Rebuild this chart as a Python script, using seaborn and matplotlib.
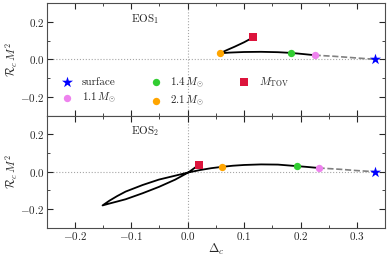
import numpy as np
import matplotlib
matplotlib.use("Agg")
import matplotlib.pyplot as plt
import seaborn as sns

# -----------------------------
# data
# -----------------------------
# EOS 1
eos1_solid_x = [0.225, 0.205, 0.184, 0.160, 0.130, 0.100, 0.075, 0.057, 0.070, 0.083, 0.100, 0.116]
eos1_solid_y = [0.022, 0.028, 0.034, 0.038, 0.040, 0.039, 0.036, 0.032, 0.050, 0.067, 0.091, 0.117]
eos1_dash_x = [0.225, 0.260, 0.300, 0.332]
eos1_dash_y = [0.022, 0.016, 0.007, 0.000]

# EOS 2 (main branch, loop, then up to M_TOV)
eos2_solid_x = [0.232, 0.210, 0.193, 0.160, 0.130, 0.100, 0.080, 0.061, 0.042, 0.022, 0.001,
                -0.022, -0.051, -0.080, -0.110, -0.125, -0.139, -0.151,
                -0.139, -0.125, -0.110, -0.080, -0.051, -0.022, 0.001, 0.020]
eos2_solid_y = [0.020, 0.026, 0.030, 0.038, 0.039, 0.036, 0.032, 0.026, 0.019, 0.009, -0.004,
                -0.021, -0.042, -0.071, -0.106, -0.130, -0.155, -0.180,
                -0.170, -0.159, -0.147, -0.115, -0.081, -0.042, -0.004, 0.037]
eos2_dash_x = [0.232, 0.270, 0.300, 0.332]
eos2_dash_y = [0.020, 0.013, 0.006, 0.000]

# special points: surface, 1.1, 1.4, 2.1 Msun, M_TOV
labels = ["surface", r"$1.1\,M_{\odot}$", r"$1.4\,M_{\odot}$", r"$2.1\,M_{\odot}$", r"$M_{\rm TOV}$"]
colors = ["blue", "violet", "limegreen", "orange", "crimson"]
markers = ["*", "o", "o", "o", "s"]
sizes = [70, 28, 28, 28, 28]
eos1_pts_x = [0.332, 0.225, 0.184, 0.057, 0.116]
eos1_pts_y = [0.000, 0.022, 0.034, 0.032, 0.117]
eos2_pts_x = [0.332, 0.232, 0.193, 0.061, 0.020]
eos2_pts_y = [0.000, 0.020, 0.030, 0.026, 0.037]

# -----------------------------
# style
# -----------------------------
sns.set_style("ticks")
plt.rcParams["font.family"] = "serif"
plt.rcParams["font.serif"] = ["cmr10", "DejaVu Serif"]
plt.rcParams["mathtext.fontset"] = "cm"
plt.rcParams["axes.formatter.use_mathtext"] = True
plt.rcParams["font.size"] = 8
plt.rcParams["axes.edgecolor"] = "0.3"

fig, axes = plt.subplots(2, 1, sharex=True, figsize=(3.89, 2.59), dpi=100)
fig.subplots_adjust(left=0.12, right=0.99, top=0.988, bottom=0.12, hspace=0)

panels = [
    (eos1_solid_x, eos1_solid_y, eos1_dash_x, eos1_dash_y, eos1_pts_x, eos1_pts_y, r"EOS$_1$"),
    (eos2_solid_x, eos2_solid_y, eos2_dash_x, eos2_dash_y, eos2_pts_x, eos2_pts_y, r"EOS$_2$"),
]

for ax, (sx, sy, dx, dy, px, py, name) in zip(axes, panels):
    ax.axhline(0, color="0.65", ls=":", lw=0.8, zorder=0)
    ax.axvline(0, color="0.65", ls=":", lw=0.8, zorder=0)
    sns.lineplot(x=dx, y=dy, sort=False, estimator=None, color="0.5",
                 linestyle="--", lw=1.2, ax=ax)
    sns.lineplot(x=sx, y=sy, sort=False, estimator=None, color="black", lw=1.3, ax=ax)
    for i in range(len(labels)):
        sns.scatterplot(x=[px[i]], y=[py[i]], color=colors[i], marker=markers[i],
                        s=sizes[i], linewidth=0, label=labels[i], zorder=5, ax=ax)
    ax.text(-0.075, 0.215, name, ha="center", va="center", fontsize=8)
    ax.set_xlim(-0.25, 0.35)
    ax.set_ylim(-0.3, 0.3)
    ax.set_yticks([-0.2, 0.0, 0.2])
    ax.set_yticks([-0.3, -0.1, 0.1, 0.3], minor=True)
    ax.set_xticks([-0.2, -0.1, 0.0, 0.1, 0.2, 0.3])
    ax.set_xticks([-0.25, -0.15, -0.05, 0.05, 0.15, 0.25, 0.35], minor=True)
    ax.tick_params(which="both", direction="in", top=True, right=True, labelsize=8, pad=1.5)
    ax.tick_params(which="major", length=4, width=0.8)
    ax.tick_params(which="minor", length=2.5, width=0.6)
    ax.set_ylabel(r"$\mathcal{R}_c\, M^2$", fontsize=8.5, labelpad=0.5)

axes[0].legend(loc="center left", bbox_to_anchor=(0.005, 0.213), ncol=3, frameon=False,
               fontsize=8, handletextpad=0.3, columnspacing=2.6, labelspacing=0.35,
               borderaxespad=0.3)
axes[1].get_legend().remove()
axes[1].set_xlabel(r"$\Delta_c$", fontsize=9, labelpad=0)

fig.savefig("out.png", dpi=100)
